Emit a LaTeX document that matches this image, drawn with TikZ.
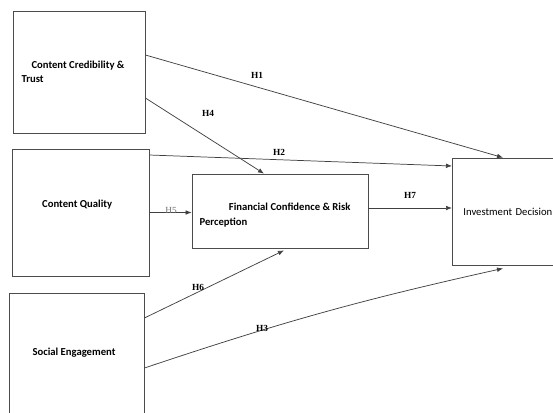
\documentclass[tikz,border=0pt]{standalone}
\usepackage{fontspec}
\setmainfont{Liberation Serif}
\newfontfamily\calibri{Carlito}
\usetikzlibrary{arrows.meta,calc}

\begin{document}
\begin{tikzpicture}[x=0.75pt,y=-0.75pt,>={Latex[length=4.5pt,width=3.5pt]},
 var/.style={draw=black!70,line width=.6pt,inner sep=0pt,align=left,font=\calibri\bfseries\fontsize{8}{10.5}\selectfont},
 link/.style={->,black!75,line width=.55pt},
 hyp/.style={inner sep=0pt,font=\bfseries\fontsize{7}{8}\selectfont}]
\useasboundingbox (0,0) rectangle (553,412);
\node[var,minimum width=99pt,minimum height=91.5pt] (cred) at (79,72) {\hspace*{7.5pt}Content Credibility \&\hspace*{9pt}\\Trust};
\node[var,minimum width=102.75pt,minimum height=95.25pt,text depth=12.5pt] (qual) at (80.5,212.5) {Content Quality\hspace*{5pt}};
\node[var,minimum width=101.25pt,minimum height=90pt] (soc) at (76.5,353) {Social Engagement\hspace*{3.75pt}};
\node[var,minimum width=132pt,minimum height=55.5pt,font=\calibri\bfseries\fontsize{8}{11.25}\selectfont] (fin) at (280,211) {\rule{0pt}{12pt}\hspace*{22pt}Financial Confidence \& Risk\hspace*{7.5pt}\\Perception};
\node[var,anchor=west,minimum width=110pt,minimum height=80.25pt,inner xsep=8.25pt,text width=93.5pt,font=\calibri\fontsize{8}{10.5}\selectfont] (inv) at (452,211.5) {Investment Decision};
\draw[link] ($(cred.east)+(0,-17)$) -- ($(inv.north west)+(51,0)$);
\draw[link] ($(cred.east)+(0,26)$) -- ($(fin.north)+(-16,0)$);
\draw[link] ($(qual.east)+(0,-57.5)$) -- ($(inv.west)+(0,-45.5)$);
\draw[link] (qual.east) -- (qual.east -| fin.west);
\coordinate (h7s) at ($(fin.east)+(0,-3)$);
\draw[link] (h7s) -- (h7s -| inv.west);
\draw[link] ($(soc.east)+(0,-35)$) -- ($(fin.south)+(4,2)$);
\draw[link] ($(soc.east)+(0,15)$) to[bend left=3] ($(inv.south west)+(51,3)$);
\node[hyp] (h1) at (257,75) {H1};
\node[hyp] (h4) at (208,113) {H4};
\node[hyp] (h2) at (279,152) {H2};
\node[hyp] (h7) at (410,195) {H7};
\node[hyp,font=\fontsize{7}{8}\selectfont,text=black!55] (h5) at (171,210) {H5};
\node[hyp] (h6) at (198,287) {H6};
\node[hyp] (h3) at (262,328) {H3};
\end{tikzpicture}
\end{document}
